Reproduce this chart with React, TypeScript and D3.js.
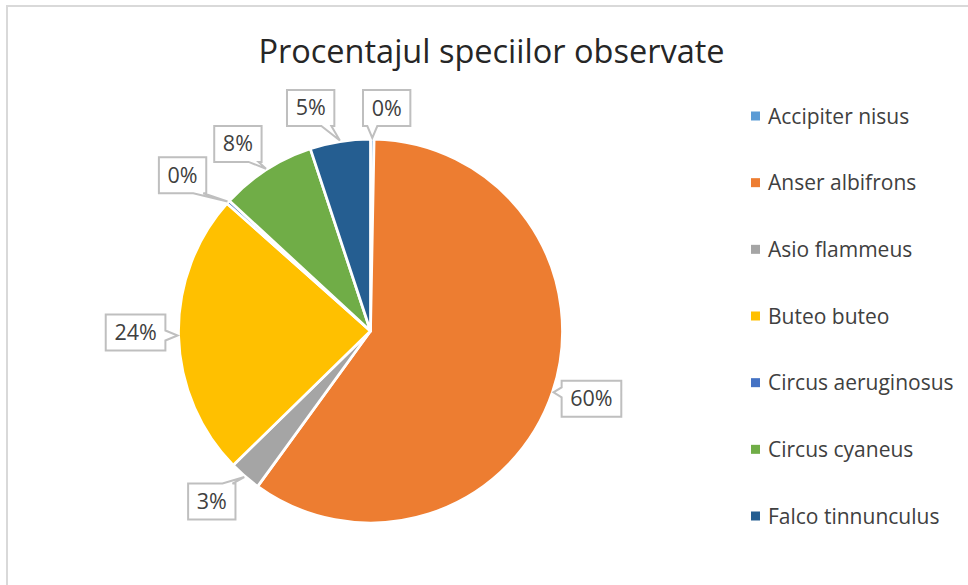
import React from "react";
import * as d3 from "d3";

const species = [
  "Accipiter nisus",
  "Anser albifrons",
  "Asio flammeus",
  "Buteo buteo",
  "Circus aeruginosus",
  "Circus cyaneus",
  "Falco tinnunculus",
];
const counts = [1, 200, 9, 80, 1, 27, 17];
const colors = ["#5B9BD5", "#ED7D31", "#A5A5A5", "#FFC000", "#4472C4", "#70AD47", "#255E91"];
const title = "Procentajul speciilor observate";

// layout only (Excel "best fit" label nudges)
const labelNudge: [number, number][] = [
  [14, 9], [1, -6], [-7, -5], [-3, -4], [-16, 0], [-7, 8], [-23, 6],
];

const W = 968, H = 585;
const cx = 370.5, cy = 331, R = 192;
const FONT = "'Open Sans', 'Noto Sans', sans-serif";
const LABEL_FS = 21.5;

function calloutPath(x0: number, y0: number, x1: number, y1: number, tx: number, ty: number) {
  const hw = 5;
  let side: string;
  if (ty > y1) side = "bottom";
  else if (ty < y0) side = "top";
  else if (tx < x0) side = "left";
  else side = "right";
  const clamp = (v: number, a: number, b: number) => Math.max(a, Math.min(b, v));
  const p: string[] = [];
  p.push(`M${x0},${y0}`);
  if (side === "top") {
    const c = clamp(tx, x0 + 8, x1 - 8);
    p.push(`L${c - hw},${y0}`, `L${tx},${ty}`, `L${c + hw},${y0}`);
  }
  p.push(`L${x1},${y0}`);
  if (side === "right") {
    const c = clamp(ty, y0 + 8, y1 - 8);
    p.push(`L${x1},${c - hw}`, `L${tx},${ty}`, `L${x1},${c + hw}`);
  }
  p.push(`L${x1},${y1}`);
  if (side === "bottom") {
    const c = clamp(tx, x0 + 8, x1 - 8);
    p.push(`L${c + hw},${y1}`, `L${tx},${ty}`, `L${c - hw},${y1}`);
  }
  p.push(`L${x0},${y1}`);
  if (side === "left") {
    const c = clamp(ty, y0 + 8, y1 - 8);
    p.push(`L${x0},${c + hw}`, `L${tx},${ty}`, `L${x0},${c - hw}`);
  }
  p.push("Z");
  return p.join(" ");
}

export default function App() {
  const total = d3.sum(counts);
  const pie = d3.pie<number>().sort(null).value((d) => d)(counts);
  const arc = d3.arc<d3.PieArcDatum<number>>().innerRadius(0).outerRadius(R);
  const fmt = d3.format(".0%");
  const legendY = d3.scalePoint<string>().domain(species).range([116, 516]);

  const pointAt = (a: number, r: number) => [cx + r * Math.sin(a), cy - r * Math.cos(a)];

  return (
    <svg width={W} height={H} style={{ position: "absolute", left: 0, top: 0 }} fontFamily={FONT}>
      <rect x={0} y={0} width={W} height={H} fill="#ffffff" />
      <rect x={7} y={6} width={W + 20} height={H + 20} fill="#ffffff" stroke="#D9D9D9" strokeWidth={2} />
      <text x={491.5} y={63} textAnchor="middle" fontSize={32.5} fill="#262626">{title}</text>
      <g transform={`translate(${cx},${cy})`}>
        {pie.map((d, i) => (
          <path key={i} d={arc(d) || ""} fill={colors[i]} stroke="#ffffff" strokeWidth={2.75} strokeLinejoin="round" />
        ))}
      </g>
      {pie.map((d, i) => {
        const mid = (d.startAngle + d.endAngle) / 2;
        const [bx, by] = pointAt(mid, 232);
        const lx = bx + labelNudge[i][0];
        const ly = by + labelNudge[i][1];
        const [tx, ty] = pointAt(mid, R + 1);
        const txt = fmt(d.value / total);
        const w = ((txt.length - 1) * 0.572 + 0.84) * LABEL_FS + 17;
        const h = 36;
        const x0 = lx - w / 2, y0 = ly - h / 2;
        return (
          <g key={"l" + i}>
            <path d={calloutPath(x0, y0, x0 + w, y0 + h, tx, ty)} fill="#ffffff" stroke="#BFBFBF" strokeWidth={2} />
            <text x={lx} y={ly + 7.5} textAnchor="middle" fontSize={LABEL_FS} fill="#404040">{txt}</text>
          </g>
        );
      })}
      {species.map((s, i) => (
        <g key={"lg" + i}>
          <rect x={751} y={(legendY(s) as number) - 4.5} width={9} height={9} fill={colors[i]} />
          <text x={768} y={(legendY(s) as number) + 7.5} fontSize={21} fill="#404040">{s}</text>
        </g>
      ))}
    </svg>
  );
}
